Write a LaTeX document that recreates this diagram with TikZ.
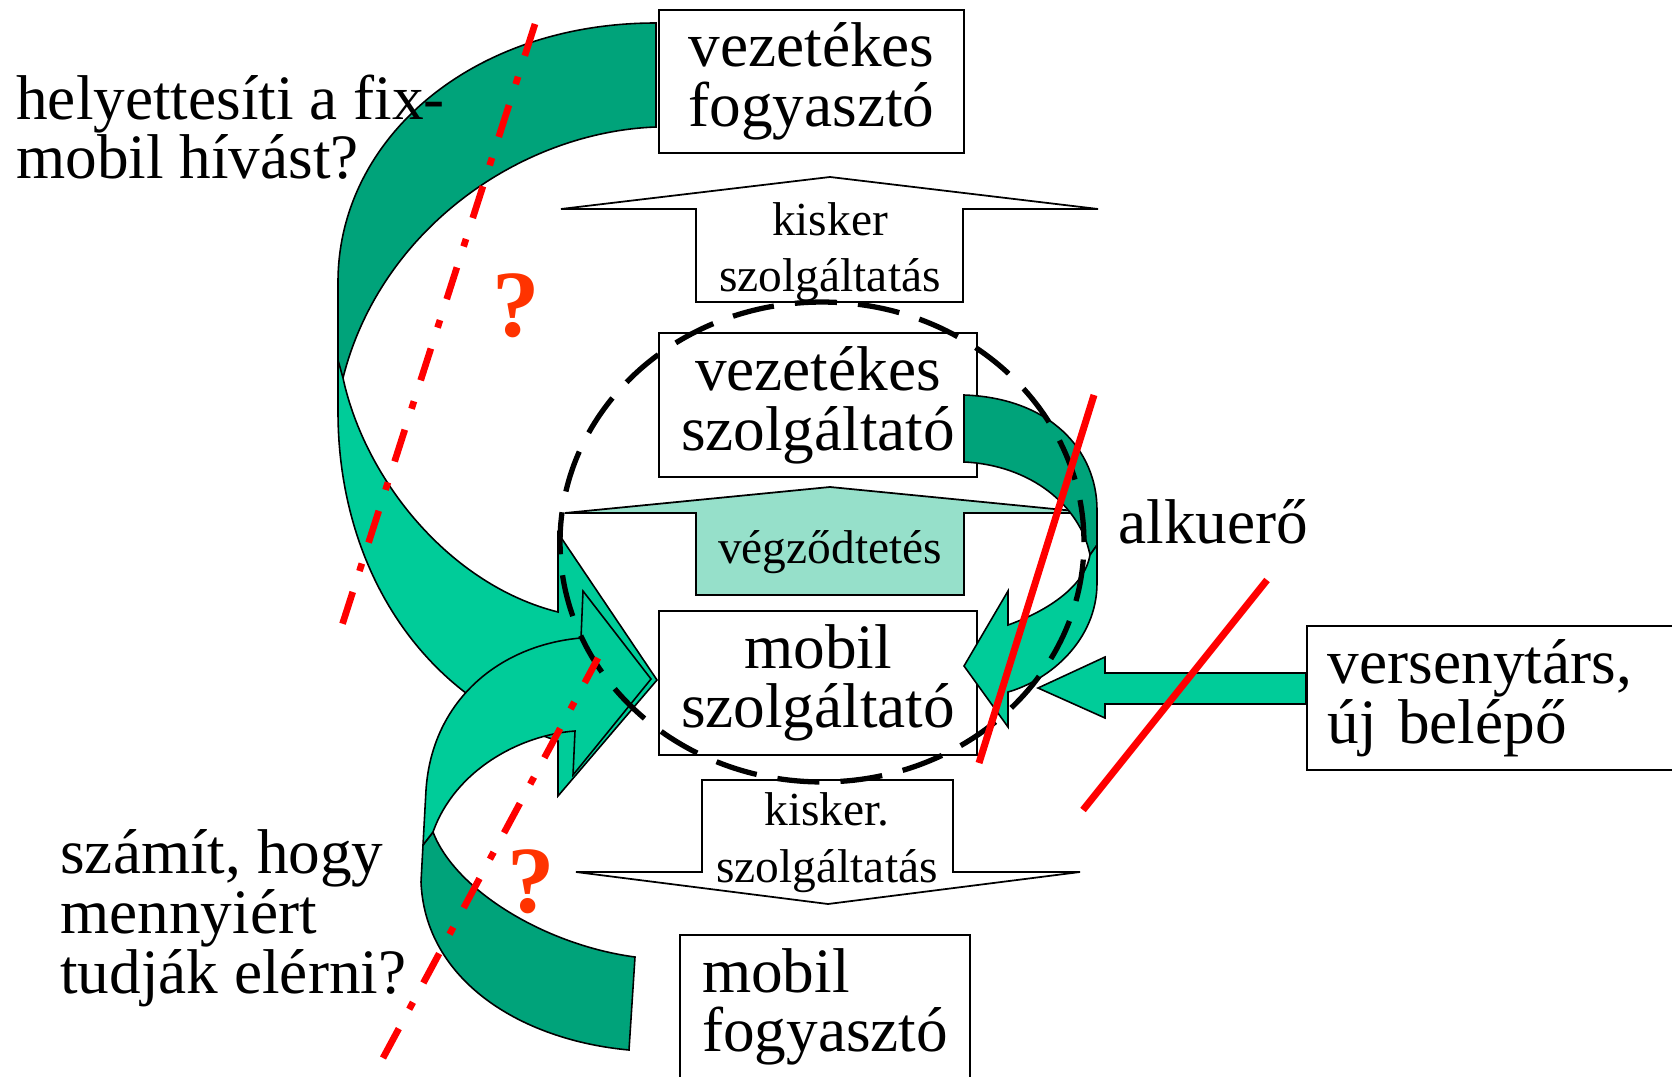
\documentclass[tikz,border=0pt]{standalone}
\usepackage{fontspec}
\setmainfont{Liberation Serif}
\definecolor{zold}{RGB}{0,204,153}
\definecolor{sotetzold}{RGB}{0,163,122}
\definecolor{pottyos}{RGB}{150,224,202}
\definecolor{kerdes}{RGB}{255,51,0}
\newcommand{\nagy}{\fontsize{36}{34}\selectfont}
\newcommand{\kozep}{\fontsize{27}{32.4}\selectfont}

\begin{document}
\begin{tikzpicture}[x=0.02cm,y=-0.02cm]
    \useasboundingbox (0,0) rectangle (1672,1077);
    \tikzset{
        doboz/.style={draw=black, line width=1.1pt, fill=white, inner sep=0pt, align=center, font=\nagy},
        blokk/.style={draw=black, line width=1pt, line join=miter},
        szalag/.style={draw=black, line width=0.9pt},
        athuzas/.style={draw=red, line width=4pt},
        pontvonal/.style={draw=red, line width=3.8pt, dash pattern=on 19pt off 12.5pt on 4.5pt off 12.5pt},
        kerdojel/.style={text=kerdes, font=\fontsize{54}{54}\selectfont\bfseries, inner sep=0pt},
        felirat/.style={anchor=base, align=center, font=\kozep, inner sep=0pt}
    }

    % block arrows
    \filldraw[blokk, fill=white] (696,302) -- (696,209) -- (561,209) -- (830,177) -- (1098,209) -- (963,209) -- (963,302) -- cycle;
    \filldraw[blokk, fill=pottyos] (696,595) -- (696,513) -- (565,513) -- (830,487) -- (1095,513) -- (964,513) -- (964,595) -- cycle;
    \filldraw[blokk, fill=white] (702,780) -- (702,872) -- (576,872) -- (828,904) -- (1080,872) -- (953,872) -- (953,780) -- cycle;

    % (base = last line)
    \node[felirat] (kisker1) at (830,292) {kisker\\szolgáltatás};
    \node[felirat] (vegz) at (830,563) {végződtetés};
    \node[felirat] (kisker2) at (827,882) {kisker.\\szolgáltatás};

    % boxes
    \node[doboz, minimum width=6.1cm, minimum height=2.86cm] (vezfogy) at (811.5,81.5) {vezetékes\\fogyasztó};
    \node[doboz, minimum width=6.36cm, minimum height=2.88cm] (vezszolg) at (818,405) {vezetékes\\szolgáltató};
    \node[doboz, minimum width=6.36cm, minimum height=2.88cm] (mobszolg) at (818,683) {mobil\\szolgáltató};
    \node[doboz, align=left, minimum width=5.8cm, minimum height=2.88cm] (mobfogy) at (825,1007) {mobil\\fogyasztó};
    \node[doboz, anchor=west, align=left, text width=7.2cm, inner xsep=0.42cm, minimum height=2.88cm] (versenytars) at (1306,698) {versenytárs,\\új belépő};

    % big curved arrow: fixed consumer -> mobile operator
    \filldraw[szalag, fill=sotetzold] (656,23) .. controls (470,23) and (338,140) .. (338,282) -- (338,372) -- (343,378) .. controls (380,230) and (520,132) .. (656,127) -- cycle;
    \filldraw[szalag, fill=zold] (338,360) -- (338,412) .. controls (338,560) and (415,695) .. (558,741) -- (558,796) -- (657,680) -- (558,533) -- (558,612) .. controls (450,585) and (365,480) .. (343,378) -- cycle;

    % lower curved arrow: mobile consumer -> mobile operator
    \filldraw[szalag, fill=sotetzold] (629,1050) -- (635,957) .. controls (545,945) and (455,890) .. (433,832) -- (423,845) -- (421,882) .. controls (425,980) and (520,1040) .. (629,1050) -- cycle;
    \filldraw[szalag, fill=zold] (423,845) -- (426,790) .. controls (432,700) and (500,645) .. (581,638) -- (583,591) -- (651,679) -- (573,775) -- (575,731) .. controls (520,735) and (455,770) .. (433,832) -- cycle;

    % small curved arrow: fixed operator -> mobile operator
    \filldraw[szalag, fill=sotetzold] (964,395) .. controls (1050,398) and (1097,450) .. (1097,510) -- (1097,545) -- (1090,555) .. controls (1080,505) and (1030,465) .. (964,462) -- cycle;
    \filldraw[szalag, fill=zold] (1090,555) -- (1097,545) -- (1097,583) .. controls (1097,640) and (1050,680) .. (1008,692) -- (1008,727) -- (964,666) -- (1008,591) -- (1008,625) .. controls (1050,610) and (1085,585) .. (1090,555) -- cycle;

    % competitor arrow
    \filldraw[szalag, fill=zold] (versenytars.west |- 0,673) -- (1105,673) -- (1105,657) -- (1038,688) -- (1105,718) -- (1105,704) -- (versenytars.west |- 0,704) -- cycle;

    % dashed circle
    \draw[line width=3pt, dash pattern=on 24pt off 12pt] (822,542) ellipse [x radius=5.24cm, y radius=4.8cm];

    % red lines
    \draw[pontvonal] (535,24) -- (337,641);
    \draw[pontvonal] (383,1058) -- (598,658);
    \draw[athuzas] (1094,395) -- (979,763);
    \draw[athuzas] (1267,580) -- (1083,810);

    \node[kerdojel] (k1) at (516,306) {?};
    \node[kerdojel] (k2) at (531,882) {?};

    % texts
    \node[anchor=base west, align=left, font=\nagy, inner sep=0pt] (helyett) at (16,179) {helyettesíti a fix-\\mobil hívást?};
    \node[anchor=base west, align=left, font=\nagy, inner sep=0pt] (szamit) at (60,993) {számít, hogy\\mennyiért\\tudják elérni?};
    \node[anchor=base west, font=\nagy, inner sep=0pt] (alku) at (1118,543) {alkuerő};
\end{tikzpicture}
\end{document}
